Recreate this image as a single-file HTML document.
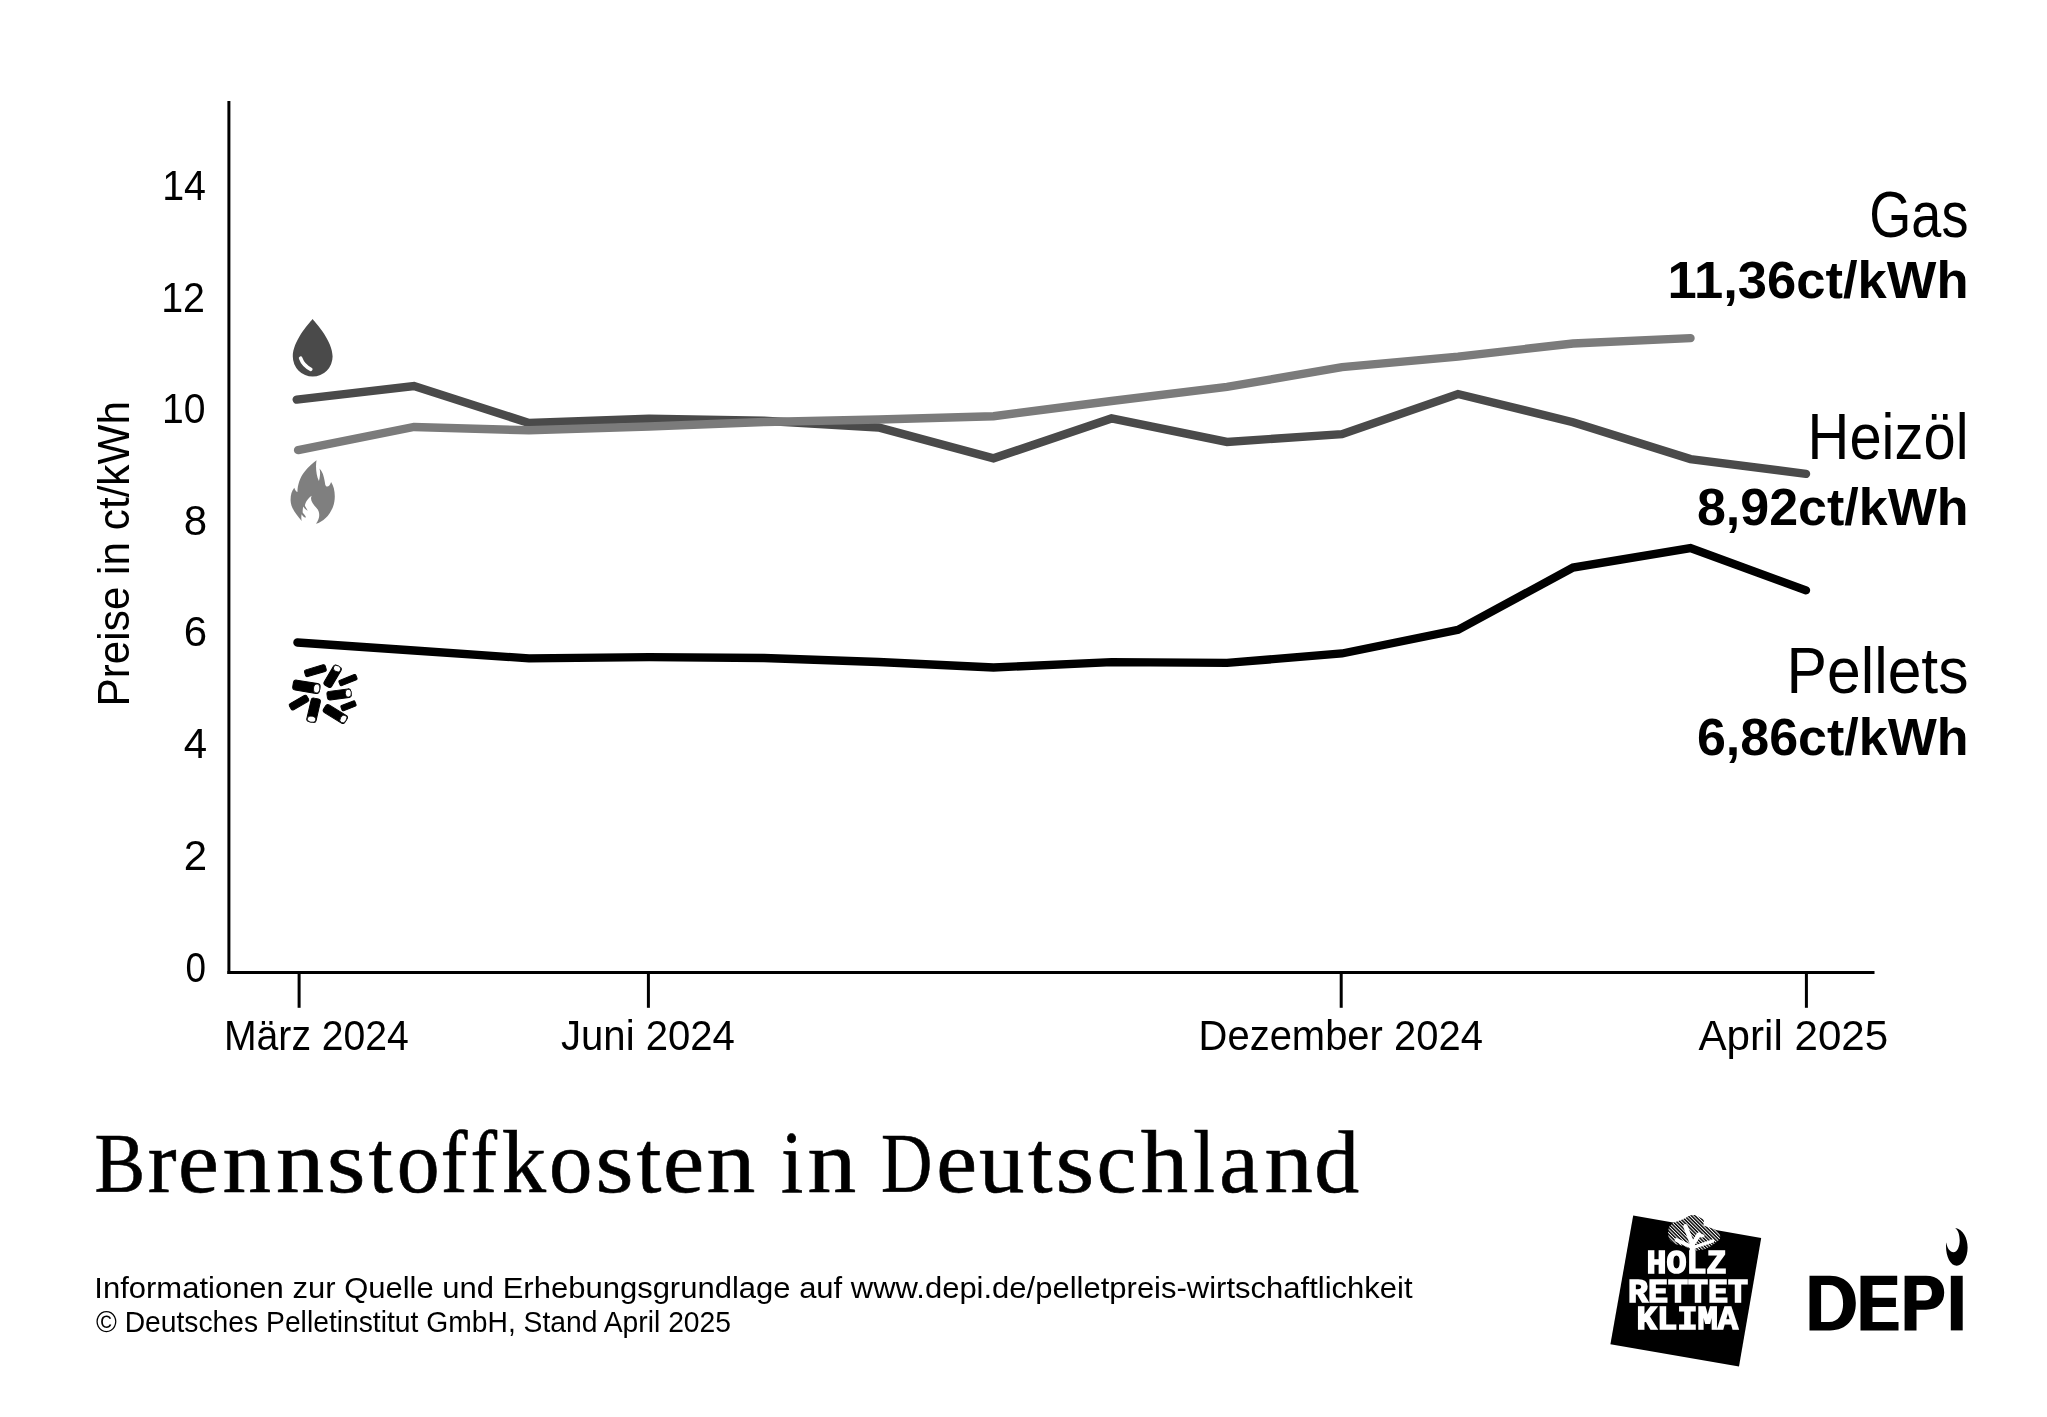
<!DOCTYPE html>
<html><head><meta charset="utf-8"><title>Brennstoffkosten in Deutschland</title>
<style>
html,body{margin:0;padding:0;background:#fff;}
body{width:2047px;height:1417px;overflow:hidden;font-family:"Liberation Sans",sans-serif;}
svg{display:block;will-change:transform;}
.s{font-family:"Liberation Sans",sans-serif;fill:#000;}
.b{font-family:"Liberation Sans",sans-serif;font-weight:bold;fill:#000;}
.r{font-family:"Liberation Serif",serif;fill:#000;}
</style></head>
<body>
<svg width="2047" height="1417" viewBox="0 0 2047 1417">
<rect width="2047" height="1417" fill="#fff"/>

<!-- axes -->
<g stroke="#000" stroke-width="3" fill="none">
<line x1="228.9" y1="101" x2="228.9" y2="973.9"/>
<line x1="227.4" y1="972.4" x2="1874.5" y2="972.4"/>
<line x1="299.1" y1="972" x2="299.1" y2="1007.8"/>
<line x1="648.4" y1="972" x2="648.4" y2="1007.8"/>
<line x1="1341.2" y1="972" x2="1341.2" y2="1007.8"/>
<line x1="1806.4" y1="972" x2="1806.4" y2="1007.8"/>
</g>

<!-- y tick labels -->
<g class="s" font-size="42" text-anchor="end">
<text x="206" y="200" textLength="43.8" lengthAdjust="spacingAndGlyphs">14</text>
<text x="205" y="311.8" textLength="43.8" lengthAdjust="spacingAndGlyphs">12</text>
<text x="205.5" y="423" textLength="43.5" lengthAdjust="spacingAndGlyphs">10</text>
<text x="207" y="534.6">8</text>
<text x="207" y="646.2">6</text>
<text x="207" y="758">4</text>
<text x="207" y="869.6">2</text>
<text x="206" y="981.6" textLength="20.5" lengthAdjust="spacingAndGlyphs">0</text>
</g>

<!-- y axis title -->
<text class="s" font-size="44" transform="translate(129.2,706.4) rotate(-90)" textLength="305.3" lengthAdjust="spacingAndGlyphs">Preise in ct/kWh</text>

<!-- x labels -->
<g class="s" font-size="43">
<text x="224" y="1050.3" textLength="184.9" lengthAdjust="spacingAndGlyphs">März 2024</text>
<text x="561" y="1050.3" textLength="173.9" lengthAdjust="spacingAndGlyphs">Juni 2024</text>
<text x="1198.6" y="1050.3" textLength="284.3" lengthAdjust="spacingAndGlyphs">Dezember 2024</text>
<text x="1698.4" y="1050.3" textLength="189.9" lengthAdjust="spacingAndGlyphs">April 2025</text>
</g>

<!-- data lines -->
<g fill="none" stroke-linejoin="miter" stroke-linecap="round">
<polyline stroke="#4a4a4a" stroke-width="8.4" points="296.7,399.6 414,386 529,423 649,418.6 764,420.8 878.5,427.5 993.5,458.3 1111.5,418.4 1227,441.9 1342,434.2 1458,394 1573,422.2 1690.5,459.1 1806,473.9"/>
<polyline stroke="#7b7b7b" stroke-width="8.4" points="298.1,450.1 414,427 529,430.3 649,426.5 764,422 878.5,419.5 993.5,416.2 1111.5,401 1227,386.9 1342,367.1 1458,356.6 1573,343.5 1690.5,338.1"/>
<polyline stroke="#000" stroke-width="8.3" points="297.4,642.5 414,650.5 529,658.4 649,657.1 764,658 878.5,662 993.5,667.5 1111.5,662.2 1227,662.9 1342,653.5 1458,629.9 1573,567.6 1690.5,548.1 1806,590.3"/>
</g>

<!-- oil drop icon -->
<g>
<path fill="#4a4a4a" d="M312.6,318.9 C317,324.5 332.6,341 332.6,356.6 A19.9,19.9 0 0 1 292.8,356.6 C292.8,341 308,324.5 312.6,318.9 Z"/>
<path fill="none" stroke="#fff" stroke-width="3.6" stroke-linecap="round" d="M300.6,358.2 C302.5,363.5 306,367 310.8,369.3"/>
</g>

<!-- flame icon -->
<path fill="#7f7f7f" transform="translate(280,455) scale(0.05294)" d="M690,100 C670,200 680,380 735,490 C760,400 765,310 745,255 C815,320 840,450 855,560 C875,620 935,610 965,510 C1040,620 1060,820 1000,980 C940,1140 820,1260 680,1300 C760,1190 760,1080 690,1000 C610,920 560,840 600,770 C540,810 480,880 470,960 C490,1000 510,1030 525,1050 C490,1040 460,1010 440,975 C430,1020 425,1060 430,1090 C460,1120 485,1150 490,1180 C460,1190 430,1160 410,1120 C400,1160 400,1200 410,1245 C320,1140 205,1010 200,860 C198,760 220,680 270,620 C285,660 300,690 330,700 C330,560 380,420 460,320 C530,230 610,160 690,100 Z"/>

<!-- pellets icon -->
<g fill="#000" stroke="#000">
<g transform="translate(315.4,670.7) rotate(-16.4)"><rect x="-10.8" y="-3.5" width="21.6" height="7" rx="1.8"/></g>
<g transform="translate(332.6,676.2) rotate(-59.5)"><rect x="-11.5" y="-4.3" width="23" height="8.6" rx="2.5"/><ellipse cx="8.8" cy="0" rx="3" ry="3.9" fill="#fff" stroke-width="0.8"/></g>
<g transform="translate(348,680.1) rotate(-22)"><rect x="-9.1" y="-2.8" width="18.2" height="5.6" rx="1.2"/></g>
<g transform="translate(306.4,686.8) rotate(9.5)"><rect x="-13.5" y="-5" width="27" height="10" rx="3"/><ellipse cx="10.4" cy="0" rx="3.2" ry="4.5" fill="#fff" stroke-width="0.8"/></g>
<g transform="translate(339.1,694.4) rotate(-7.5)"><rect x="-12" y="-4.3" width="24" height="8.6" rx="2.5"/><ellipse cx="9.3" cy="0" rx="3" ry="3.9" fill="#fff" stroke-width="0.8"/></g>
<g transform="translate(299,702.6) rotate(-29.7)"><rect x="-10" y="-3.5" width="20" height="7" rx="1.8"/></g>
<g transform="translate(313.6,710.3) rotate(103)"><rect x="-12" y="-4.7" width="24" height="9.4" rx="2.6"/><ellipse cx="9.1" cy="0" rx="3.1" ry="4.3" fill="#fff" stroke-width="0.8"/></g>
<g transform="translate(335.3,714) rotate(31.7)"><rect x="-12.5" y="-4.5" width="25" height="9" rx="2.5"/><ellipse cx="9.5" cy="0" rx="3.1" ry="4.1" fill="#fff" stroke-width="0.8"/></g>
<g transform="translate(348.5,705.8) rotate(-21)"><rect x="-7.5" y="-2.8" width="15" height="5.6" rx="1.2"/></g>
</g>

<!-- right labels -->
<g text-anchor="end">
<text class="s" x="1968.5" y="236.5" font-size="64" textLength="99.2" lengthAdjust="spacingAndGlyphs">Gas</text>
<text class="b" x="1968.6" y="297.9" font-size="51.5" textLength="301" lengthAdjust="spacingAndGlyphs">11,36ct/kWh</text>
<text class="s" x="1968.5" y="459" font-size="64" textLength="160.9" lengthAdjust="spacingAndGlyphs">Heizöl</text>
<text class="b" x="1968.6" y="525.4" font-size="51.5" textLength="271.7" lengthAdjust="spacingAndGlyphs">8,92ct/kWh</text>
<text class="s" x="1968.5" y="693.1" font-size="64" textLength="181.9" lengthAdjust="spacingAndGlyphs">Pellets</text>
<text class="b" x="1968.6" y="755.4" font-size="51.5" textLength="271.7" lengthAdjust="spacingAndGlyphs">6,86ct/kWh</text>
</g>

<!-- title -->
<g class="r" font-size="88" stroke="#000" stroke-width="0.6">
<text y="1191.6" lengthAdjust="spacingAndGlyphs" x="94.5" textLength="50.70" font-size="84">B</text>
<text y="1191.6" lengthAdjust="spacingAndGlyphs" x="147.7" textLength="28.79">r</text>
<text y="1191.6" lengthAdjust="spacingAndGlyphs" x="178.1" textLength="40.77">e</text>
<text y="1191.6" lengthAdjust="spacingAndGlyphs" x="222.4" textLength="48.60">n</text>
<text y="1191.6" lengthAdjust="spacingAndGlyphs" x="275.9" textLength="48.17">n</text>
<text y="1191.6" lengthAdjust="spacingAndGlyphs" x="326.7" textLength="38.79">s</text>
<text y="1191.6" lengthAdjust="spacingAndGlyphs" x="368.6" textLength="24.26">t</text>
<text y="1191.6" lengthAdjust="spacingAndGlyphs" x="396.7" textLength="42.82">o</text>
<text y="1191.6" lengthAdjust="spacingAndGlyphs" x="440.7" textLength="26.66">f</text>
<text y="1191.6" lengthAdjust="spacingAndGlyphs" x="470.6" textLength="26.55">f</text>
<text y="1191.6" lengthAdjust="spacingAndGlyphs" x="501.8" textLength="44.29">k</text>
<text y="1191.6" lengthAdjust="spacingAndGlyphs" x="549.1" textLength="43.41">o</text>
<text y="1191.6" lengthAdjust="spacingAndGlyphs" x="595.4" textLength="38.04">s</text>
<text y="1191.6" lengthAdjust="spacingAndGlyphs" x="636.6" textLength="24.90">t</text>
<text y="1191.6" lengthAdjust="spacingAndGlyphs" x="663.1" textLength="41.13">e</text>
<text y="1191.6" lengthAdjust="spacingAndGlyphs" x="706.4" textLength="48.82">n</text>
<text y="1191.6" lengthAdjust="spacingAndGlyphs" x="781.0" textLength="22.20">i</text>
<text y="1191.6" lengthAdjust="spacingAndGlyphs" x="807.4" textLength="48.71">n</text>
<text y="1191.6" lengthAdjust="spacingAndGlyphs" x="881.0" textLength="51.29" font-size="84">D</text>
<text y="1191.6" lengthAdjust="spacingAndGlyphs" x="936.3" textLength="40.77">e</text>
<text y="1191.6" lengthAdjust="spacingAndGlyphs" x="979.0" textLength="45.35">u</text>
<text y="1191.6" lengthAdjust="spacingAndGlyphs" x="1027.9" textLength="24.58">t</text>
<text y="1191.6" lengthAdjust="spacingAndGlyphs" x="1055.5" textLength="38.79">s</text>
<text y="1191.6" lengthAdjust="spacingAndGlyphs" x="1096.5" textLength="39.77">c</text>
<text y="1191.6" lengthAdjust="spacingAndGlyphs" x="1140.7" textLength="47.37">h</text>
<text y="1191.6" lengthAdjust="spacingAndGlyphs" x="1193.3" textLength="21.73">l</text>
<text y="1191.6" lengthAdjust="spacingAndGlyphs" x="1219.2" textLength="39.33">a</text>
<text y="1191.6" lengthAdjust="spacingAndGlyphs" x="1264.5" textLength="48.28">n</text>
<text y="1191.6" lengthAdjust="spacingAndGlyphs" x="1314.2" textLength="44.95">d</text>
</g>

<!-- footer -->
<g class="s" font-size="28.6">
<text x="94.3" y="1297.5" textLength="1318.2" lengthAdjust="spacingAndGlyphs">Informationen zur Quelle und Erhebungsgrundlage auf www.depi.de/pelletpreis-wirtschaftlichkeit</text>
<text x="96" y="1331.5" textLength="635" lengthAdjust="spacingAndGlyphs">© Deutsches Pelletinstitut GmbH, Stand April 2025</text>
</g>

<!-- HOLZ RETTET KLIMA logo -->
<defs>
<pattern id="hatch" patternUnits="userSpaceOnUse" width="2.45" height="2.45" patternTransform="rotate(-45)">
<rect width="2.45" height="2.45" fill="#fff"/><rect width="1.45" height="2.45" fill="#000"/>
</pattern>
</defs>
<polygon points="1633.2,1215.6 1761.2,1238 1739,1366.4 1610.4,1344.2" fill="#000"/>
<path fill="url(#hatch)" d="M1668.2,1232.2 C1668.5,1228 1669,1226.5 1670.3,1225.4 C1672,1223.5 1673.5,1222.5 1675.4,1222 L1680.5,1220.3 L1685.6,1217.9 C1688,1216.5 1690,1215.3 1692.5,1215.1 C1694.5,1215 1696,1215.5 1697.6,1216.2 L1702.7,1218.9 C1704,1220 1704,1221 1703.8,1222 L1703.4,1225.4 L1707.9,1227.1 L1714.7,1229.2 C1718,1231 1720.5,1234 1720.2,1236.7 C1720,1238.5 1719.5,1239.8 1718.1,1240.8 L1711.3,1245.9 L1704.5,1249.3 L1694.2,1251 L1683.9,1245.9 L1675.4,1244.2 L1670.3,1240.8 C1668.5,1238.5 1668,1235 1668.2,1232.2 Z"/>
<g stroke="#fff" fill="none" stroke-linecap="round">
<line x1="1676.5" y1="1240" x2="1691" y2="1246.5" stroke-width="3.8"/>
<line x1="1685.5" y1="1226.5" x2="1691.5" y2="1242" stroke-width="4.6"/>
<line x1="1693.5" y1="1243" x2="1699" y2="1234.5" stroke-width="4.4"/>
<line x1="1698" y1="1234.5" x2="1703" y2="1236" stroke-width="3"/>
<line x1="1695" y1="1247" x2="1712.5" y2="1241" stroke-width="3.4"/>
<line x1="1692.3" y1="1243" x2="1692.3" y2="1252" stroke-width="5.2" stroke-linecap="butt"/>
</g>
<g font-family="Liberation Mono, monospace" font-weight="bold" fill="#fff" stroke="#fff" stroke-width="1.6" font-size="34">
<text x="1646.6" y="1273.4" textLength="80" lengthAdjust="spacingAndGlyphs">HOLZ</text>
<text x="1628" y="1301.6" textLength="120" lengthAdjust="spacingAndGlyphs">RETTET</text>
<text x="1636.6" y="1329.2" textLength="101.5" lengthAdjust="spacingAndGlyphs">KLIMA</text>
</g>

<!-- DEPI logo -->
<g fill="#000">
<path fill-rule="evenodd" d="M1809.5,1275.8 H1830 C1847,1275.8 1855.8,1288 1855.8,1303 C1855.8,1318.5 1847,1330.4 1830,1330.4 H1809.5 Z M1821.1,1285.1 H1829 C1838.5,1285.1 1843.1,1293 1843.1,1303.5 C1843.1,1314 1838.5,1322 1829,1322 H1821.1 Z"/>
<path d="M1860.5,1275.8 H1897.2 V1285.1 H1872.5 V1297.8 H1895.9 V1307.1 H1872.5 V1322 H1898.5 V1330.4 H1860.5 Z"/>
<path fill-rule="evenodd" d="M1904.6,1275.8 H1926 C1938,1275.8 1944.2,1283 1944.2,1292.5 C1944.2,1302.5 1938,1309.7 1926,1309.7 H1916.5 V1330.4 H1904.6 Z M1916.5,1285.1 H1925 C1929.5,1285.1 1931.9,1288 1931.9,1292.8 C1931.9,1297.6 1929.5,1300.5 1925,1300.5 H1916.5 Z"/>
<rect x="1950.8" y="1275.8" width="11.9" height="54.6"/>
<path fill-rule="evenodd" d="M1955.2,1227.9 C1963,1229 1967.6,1238 1967.6,1247.5 C1967.6,1258 1962.5,1265.7 1956.8,1265.7 C1950.5,1265.7 1946,1257 1946,1246 C1946,1244 1946.1,1243 1946.3,1242.5 C1947,1248 1950,1252.2 1953.5,1252.2 C1957.5,1252.2 1959.7,1246 1959.7,1240.5 C1959.7,1234.5 1958,1230 1955.2,1227.9 Z"/>
</g>
</svg>
</body></html>
